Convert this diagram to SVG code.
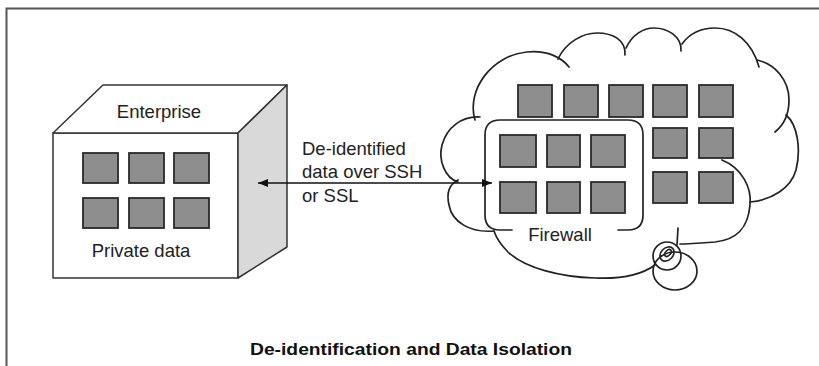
<svg xmlns="http://www.w3.org/2000/svg" width="819" height="366" viewBox="0 0 819 366">
<style>
.txt{font-family:"Liberation Sans",Arial,sans-serif;font-size:18.5px;fill:#222}
.title{font-family:"Liberation Sans",Arial,sans-serif;font-size:17px;font-weight:bold;fill:#111}
.sq{fill:#8e8e8e;stroke:#2a2a2a;stroke-width:1.8}
.edge{fill:#fff;stroke:#333;stroke-width:1.5;stroke-linejoin:round}
.cl{fill:none;stroke:#222;stroke-width:1.7;stroke-linecap:round}
</style>
<defs>
<marker id="ah" viewBox="0 0 10 8" refX="10" refY="4" markerWidth="10" markerHeight="8" markerUnits="userSpaceOnUse" orient="auto-start-reverse">
<path d="M0,0 L10,4 L0,8 Z" fill="#111"/>
</marker>
</defs>
<rect width="819" height="366" fill="#fff"/>
<path d="M6.5,366 V8.5 H819" fill="none" stroke="#555" stroke-width="2"/>

<g id="enterprise">
<rect class="edge" x="53" y="133" width="185" height="145"/>
<polygon class="edge" points="53,133 103,85 287,85 238,133"/>
<polygon class="edge" points="238,133 287,85 287,247 238,278" style="fill:#d9d9d9"/>
<text class="txt" x="159" y="118" text-anchor="middle">Enterprise</text>
<rect class="sq" x="83" y="153" width="35" height="30"/>
<rect class="sq" x="129" y="153" width="35" height="30"/>
<rect class="sq" x="174" y="153" width="35" height="30"/>
<rect class="sq" x="83" y="198" width="35" height="30"/>
<rect class="sq" x="129" y="198" width="35" height="30"/>
<rect class="sq" x="174" y="198" width="35" height="30"/>
<text class="txt" x="141" y="257" text-anchor="middle">Private data</text>
</g>

<g id="cloud">
<path class="cl" d="M475,120 C466,90 492,55 527,52 C548,50 562,58 569,67"/>
<path class="cl" d="M558,59 C566,42 583,33 597,33 C613,33 626,40 625,55"/>
<path class="cl" d="M626,48 C632,35 643,28 654,28 C667,28 682,36 681,51"/>
<path class="cl" d="M682,44 C690,33 702,28 715,28 C735,28 752,42 759,67"/>
<path class="cl" d="M757,60 C775,64 789,80 789,100 C789,113 785,124 775,132"/>
<path class="cl" d="M786,115 C798,125 801,150 796,170 C791,188 772,200 750,202"/>
<path class="cl" d="M722,160 C742,168 752,188 750,205 C748,230 735,240 715,242 C702,243 690,244 680,244"/>
<path class="cl" d="M678,228 L677,245"/>
<path class="cl" d="M655,265 C640,276 618,279 595,278 C560,277 525,268 508,252 C500,244 496,237 494,231"/>
<path class="cl" d="M494,231 C470,233 452,222 449,205 C446,192 450,184 458,180"/>
<path class="cl" d="M458,182 C445,178 438,160 442,145 C447,127 462,116 480,117"/>
<ellipse class="cl" cx="675" cy="271" rx="22" ry="19"/>
<circle class="cl" cx="667" cy="256" r="14"/>
<ellipse class="cl" cx="667" cy="254" rx="8" ry="6" transform="rotate(-45 667 254)"/>
<ellipse class="cl" cx="668" cy="253" rx="4" ry="2.5" transform="rotate(-45 668 253)"/>
<rect class="sq" x="518" y="85" width="34" height="32"/>
<rect class="sq" x="564" y="85" width="34" height="32"/>
<rect class="sq" x="609" y="85" width="34" height="32"/>
<rect class="sq" x="653" y="85" width="34" height="32"/>
<rect class="sq" x="699" y="85" width="34" height="32"/>
<rect class="sq" x="653" y="128" width="34" height="30"/>
<rect class="sq" x="699" y="128" width="34" height="30"/>
<rect class="sq" x="653" y="172" width="34" height="31"/>
<rect class="sq" x="699" y="172" width="34" height="31"/>
</g>

<g id="firewall">
<path class="cl" d="M512,230 H500 Q485,230 485,215 V135 Q485,120 500,120 H628 Q643,120 643,135 V215 Q643,230 628,230 H618"/>
<rect class="sq" x="500" y="135" width="36" height="32"/>
<rect class="sq" x="547" y="135" width="33" height="32"/>
<rect class="sq" x="591" y="135" width="34" height="32"/>
<rect class="sq" x="500" y="182" width="36" height="31"/>
<rect class="sq" x="547" y="182" width="33" height="31"/>
<rect class="sq" x="591" y="182" width="34" height="31"/>
<text class="txt" x="560" y="241" text-anchor="middle">Firewall</text>
</g>

<g id="connectors">
<line x1="258" y1="183" x2="492" y2="183" stroke="#111" stroke-width="1.6" marker-start="url(#ah)" marker-end="url(#ah)"/>
</g>
<g id="arrow-label">
<text class="txt" x="302" y="155">De-identified</text>
<text class="txt" x="302" y="178">data over SSH</text>
<text class="txt" x="302" y="202">or SSL</text>
</g>
<text class="title" x="411" y="355" text-anchor="middle" textLength="322" lengthAdjust="spacingAndGlyphs">De-identification and Data Isolation</text>
</svg>
